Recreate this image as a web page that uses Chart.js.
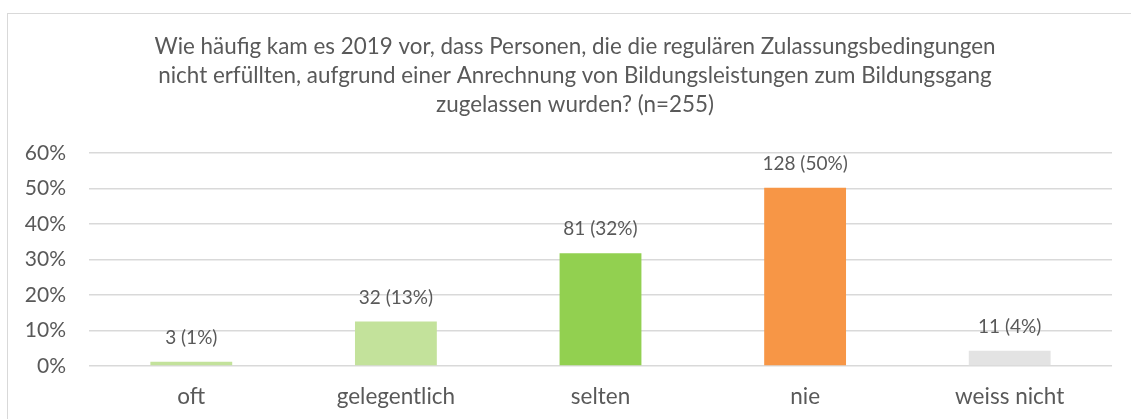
<!DOCTYPE html>
<html>
<head>
<meta charset="utf-8">
<script src="https://cdn.jsdelivr.net/npm/chart.js@4/dist/chart.umd.min.js"></script>
<style>
  html, body { margin: 0; padding: 0; background: #fff; overflow: hidden; }
  #wrap { position: relative; width: 1131px; height: 419px; overflow: hidden; }
  #frame { position: absolute; left: 7px; top: 13px; width: 1200px; height: 500px; border: 1px solid #d9d9d9; box-sizing: border-box; }
  #c { position: absolute; left: 0; top: 0; }
</style>
</head>
<body>
<div id="wrap">
  <div id="frame"></div>
  <canvas id="c" width="1131" height="419"></canvas>
</div>
<script>
const titleLines = [
  "Wie häufig kam es 2019 vor, dass Personen, die die regulären Zulassungsbedingungen",
  "nicht erfüllten, aufgrund einer Anrechnung von Bildungsleistungen zum Bildungsgang",
  "zugelassen wurden? (n=255)"
];
const categories = ["oft", "gelegentlich", "selten", "nie", "weiss nicht"];
const counts = [3, 32, 81, 128, 11];
const percents = [1.18, 12.55, 31.76, 50.20, 4.31];
const valueLabels = ["3 (1%)", "32 (13%)", "81 (32%)", "128 (50%)", "11 (4%)"];
const barColors = ["#C3E29B", "#C3E29B", "#92D050", "#F79646", "#E3E3E3"];
const yTicks = [0, 10, 20, 30, 40, 50, 60];

const FONT = "Lato, 'Open Sans', sans-serif";
const TEXT = "#595959";

const labelPlugin = {
  id: "valueLabels",
  afterDatasetsDraw(chart) {
    const ctx = chart.ctx;
    const meta = chart.getDatasetMeta(0);
    ctx.save();
    ctx.font = "19px " + FONT;
    ctx.fillStyle = TEXT;
    ctx.textAlign = "center";
    ctx.textBaseline = "middle";
    meta.data.forEach((bar, i) => {
      ctx.fillText(valueLabels[i], bar.x, bar.y - 24);
    });
    ctx.restore();
  }
};

new Chart(document.getElementById("c"), {
  type: "bar",
  data: {
    labels: categories,
    datasets: [{
      data: percents,
      backgroundColor: barColors,
      borderWidth: 0,
      categoryPercentage: 1,
      barPercentage: 0.4
    }]
  },
  options: {
    responsive: false,
    animation: false,
    events: [],
    layout: { padding: { left: 19, right: 0, top: 0, bottom: 0 } },
    plugins: {
      legend: { display: false },
      tooltip: { enabled: false },
      title: {
        display: true,
        text: titleLines,
        color: TEXT,
        font: { family: FONT, size: 22.4, weight: "normal", lineHeight: "29px" },
        padding: { top: 32.5, bottom: 33.5 }
      }
    },
    scales: {
      x: {
        grid: { display: false, drawTicks: false },
        border: { display: false },
        ticks: { color: TEXT, font: { family: FONT, size: 22.5, lineHeight: "27px" }, padding: 17.5, maxRotation: 0 },
        afterFit(s) { s.height = 53; }
      },
      y: {
        min: 0, max: 60,
        afterBuildTicks(s) { s.ticks = yTicks.map(v => ({ value: v })); },
        grid: { color: "#d9d9d9", lineWidth: 1.5, drawTicks: false },
        border: { display: false },
        ticks: { color: TEXT, font: { family: FONT, size: 21 }, padding: 23, callback: v => v + "%" },
        afterFit(s) { s.width = 70; }
      },
      yR: {
        position: "right",
        min: 0, max: 60,
        grid: { display: false, drawTicks: false },
        border: { display: false },
        ticks: { display: false },
        afterFit(s) { s.width = 19; }
      }
    }
  },
  plugins: [labelPlugin]
});
</script>
</body>
</html>
